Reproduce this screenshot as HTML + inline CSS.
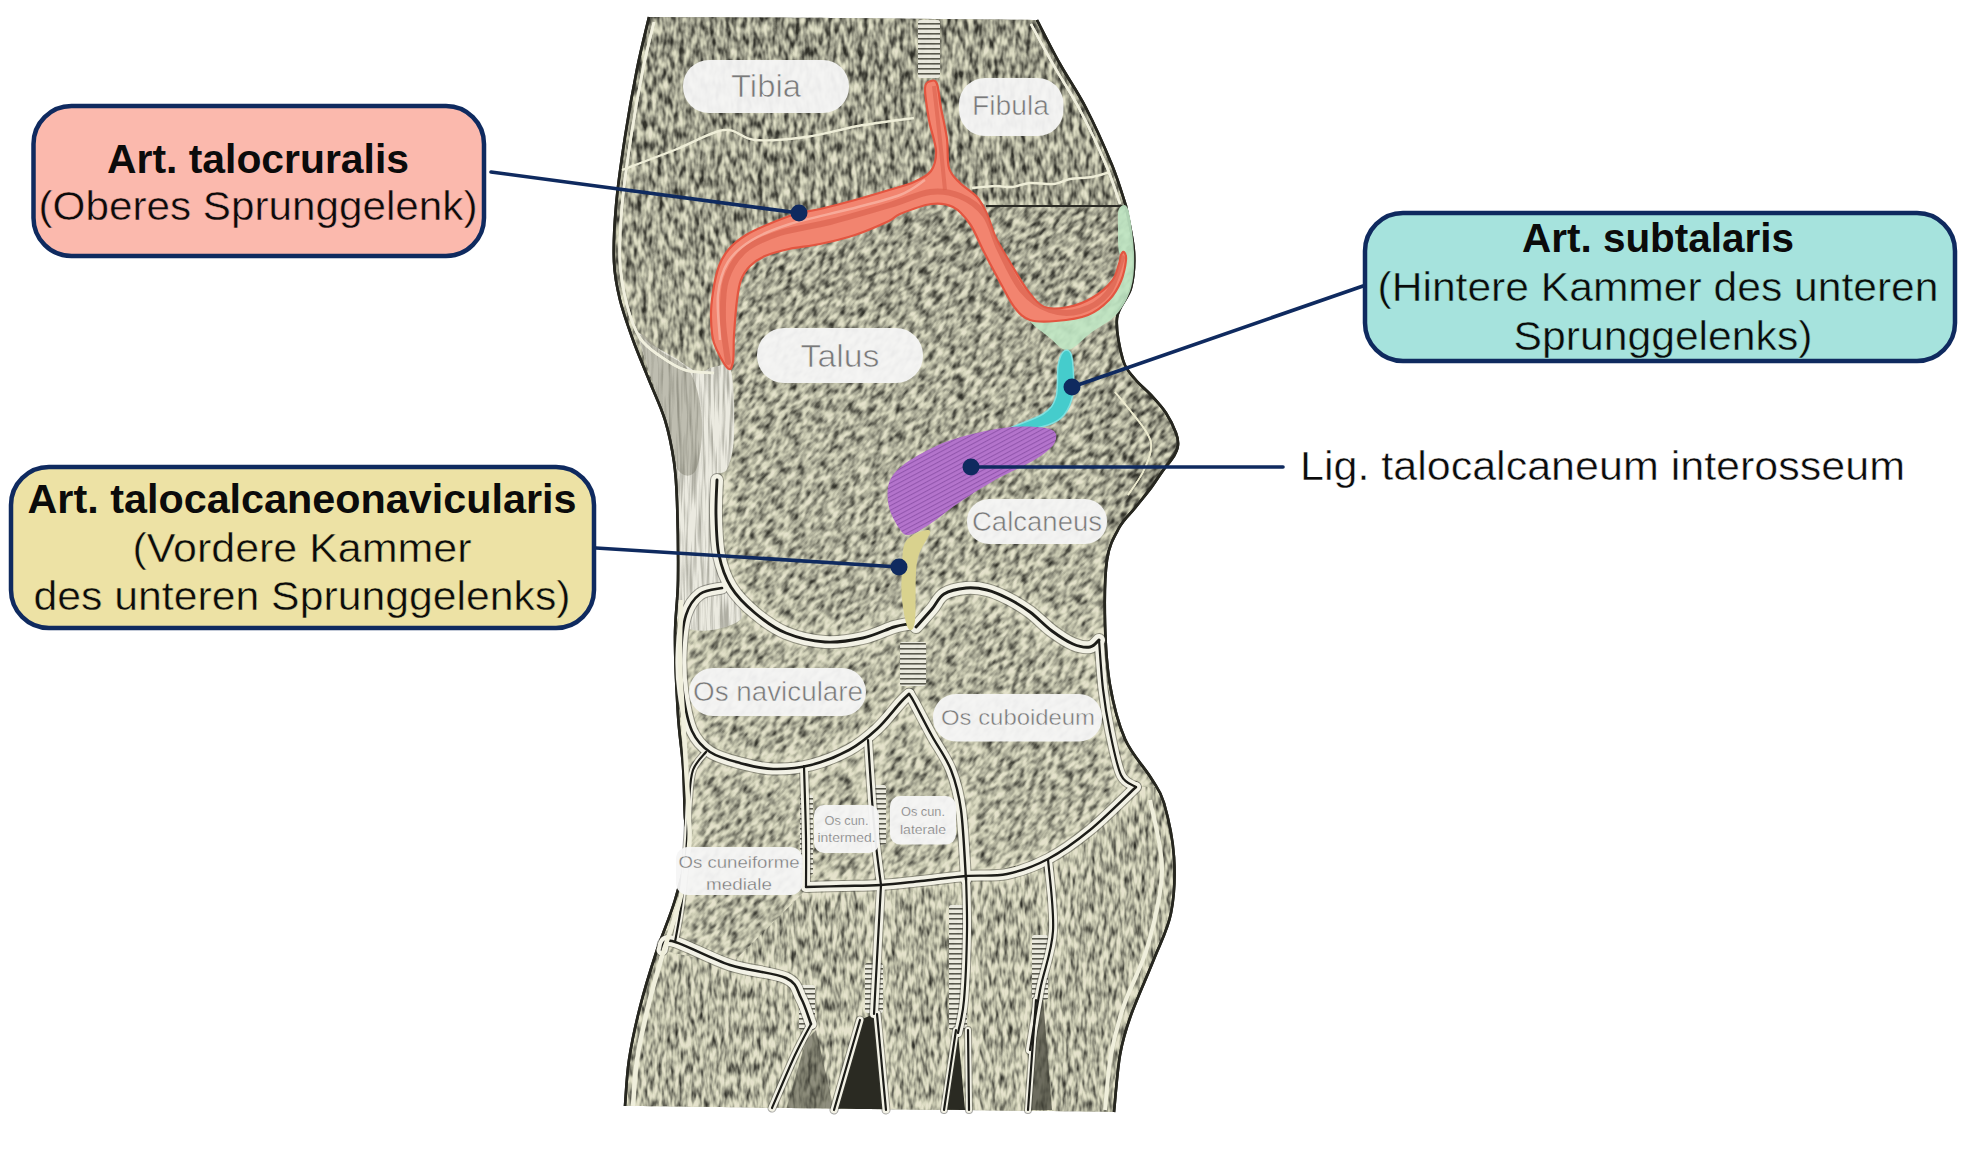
<!DOCTYPE html>
<html><head><meta charset="utf-8"><style>
html,body{margin:0;padding:0;background:#fff;}
body{width:1970px;height:1164px;overflow:hidden;}
svg{display:block;font-family:"Liberation Sans",sans-serif;}
</style></head><body>
<svg width="1970" height="1164" viewBox="0 0 1970 1164"><defs><clipPath id="bc"><path d="M649,17 C680.8,17.2 775.3,17.5 840,18 C904.7,18.5 1004.2,19.7 1037,20 C1040.8,27.3 1051.8,49.3 1060,64 C1068.2,78.7 1077.3,91.2 1086,108 C1094.7,124.8 1105.3,148.7 1112,165 C1118.7,181.3 1123.7,199.2 1126,206 C1127.3,213.7 1133.2,238.3 1134,252 C1134.8,265.7 1133.8,277.0 1131,288 C1128.2,299.0 1118.3,306.0 1117,318 C1115.7,330.0 1120.0,349.8 1123,360 C1126.0,370.2 1130.3,373.2 1135,379 C1139.7,384.8 1145.8,389.3 1151,395 C1156.2,400.7 1161.8,406.7 1166,413 C1170.2,419.3 1174.0,427.7 1176,433 C1178.0,438.3 1178.3,441.2 1178,445 C1177.7,448.8 1176.7,451.5 1174,456 C1171.3,460.5 1165.8,466.7 1162,472 C1158.2,477.3 1155.5,482.0 1151,488 C1146.5,494.0 1140.3,501.3 1135,508 C1129.7,514.7 1123.7,519.3 1119,528 C1114.3,536.7 1109.3,544.2 1107,560 C1104.7,575.8 1104.5,602.2 1105,623 C1105.5,643.8 1106.7,665.7 1110,685 C1113.3,704.3 1118.2,723.5 1125,739 C1131.8,754.5 1144.5,767.3 1151,778 C1157.5,788.7 1160.2,789.8 1164,803 C1167.8,816.2 1172.8,838.7 1174,857 C1175.2,875.3 1174.3,896.0 1171,913 C1167.7,930.0 1160.7,942.0 1154,959 C1147.3,976.0 1136.7,999.0 1131,1015 C1125.3,1031.0 1122.8,1038.8 1120,1055 C1117.2,1071.2 1115.0,1102.5 1114,1112 C1073.3,1111.5 951.5,1110.0 870,1109 C788.5,1108.0 665.8,1106.5 625,1106 C625.7,1098.3 626.5,1076.5 629,1060 C631.5,1043.5 635.5,1024.8 640,1007 C644.5,989.2 650.2,970.8 656,953 C661.8,935.2 669.7,917.7 675,900 C680.3,882.3 686.3,860.7 688,847 C689.7,833.3 685.8,831.5 685,818 C684.2,804.5 684.2,783.2 683,766 C681.8,748.8 679.3,736.5 678,715 C676.7,693.5 675.0,659.5 675,637 C675.0,614.5 677.7,602.7 678,580 C678.3,557.3 677.7,520.7 677,501 C676.3,481.3 676.0,475.5 674,462 C672.0,448.5 669.2,433.7 665,420 C660.8,406.3 654.3,393.3 649,380 C643.7,366.7 637.8,353.3 633,340 C628.2,326.7 623.2,313.0 620,300 C616.8,287.0 614.7,277.7 614,262 C613.3,246.3 614.2,226.8 616,206 C617.8,185.2 621.5,159.8 625,137 C628.5,114.2 633.0,89.0 637,69 C641.0,49.0 647.0,25.7 649,17Z"/></clipPath><filter id="tx" x="0" y="-700" width="1900" height="2300" filterUnits="userSpaceOnUse" color-interpolation-filters="sRGB">
  <feGaussianBlur in="SourceGraphic" stdDeviation="5" result="b"/>
  <feTurbulence type="fractalNoise" baseFrequency="0.2 0.1" numOctaves="2" seed="7" result="n0"/>
  <feColorMatrix in="n0" type="matrix" values="1 0 0 0 0  1 0 0 0 0  1 0 0 0 0  0 0 0 0 1" result="n"/>
  <feComposite in="n" in2="b" operator="arithmetic" k1="0" k2="1" k3="1" k4="-0.5"/>
  <feColorMatrix type="matrix" values="1.7 0 0 0 -0.35  1.7 0 0 0 -0.35  1.7 0 0 0 -0.35  0 0 0 0 1"/>
  <feComponentTransfer>
    <feFuncR type="table" tableValues="0.19 0.32 0.48 0.62 0.74 0.84 0.9"/>
    <feFuncG type="table" tableValues="0.19 0.32 0.48 0.62 0.74 0.84 0.89"/>
    <feFuncB type="table" tableValues="0.16 0.28 0.42 0.55 0.65 0.74 0.8"/>
  </feComponentTransfer>
  <feGaussianBlur stdDeviation="0.6"/>
</filter><filter id="tx1" x="600" y="10" width="600" height="1110" filterUnits="userSpaceOnUse" color-interpolation-filters="sRGB">
  <feGaussianBlur in="SourceGraphic" stdDeviation="5" result="b"/>
  <feTurbulence type="fractalNoise" baseFrequency="0.19 0.085" numOctaves="2" seed="3" result="n0"/>
  <feColorMatrix in="n0" type="matrix" values="1 0 0 0 0  1 0 0 0 0  1 0 0 0 0  0 0 0 0 1" result="n"/>
  <feComposite in="n" in2="b" operator="arithmetic" k1="0" k2="1" k3="1" k4="-0.5"/>
  <feColorMatrix type="matrix" values="1.7 0 0 0 -0.35  1.7 0 0 0 -0.35  1.7 0 0 0 -0.35  0 0 0 0 1"/>
  <feComponentTransfer>
    <feFuncR type="table" tableValues="0.19 0.32 0.48 0.62 0.74 0.84 0.9"/>
    <feFuncG type="table" tableValues="0.19 0.32 0.48 0.62 0.74 0.84 0.89"/>
    <feFuncB type="table" tableValues="0.16 0.28 0.42 0.55 0.65 0.74 0.8"/>
  </feComponentTransfer>
  <feGaussianBlur stdDeviation="0.6"/>
</filter><filter id="tx3" x="600" y="10" width="600" height="1110" filterUnits="userSpaceOnUse" color-interpolation-filters="sRGB">
  <feGaussianBlur in="SourceGraphic" stdDeviation="5" result="b"/>
  <feTurbulence type="fractalNoise" baseFrequency="0.24 0.08" numOctaves="2" seed="5" result="n0"/>
  <feColorMatrix in="n0" type="matrix" values="1 0 0 0 0  1 0 0 0 0  1 0 0 0 0  0 0 0 0 1" result="n"/>
  <feComposite in="n" in2="b" operator="arithmetic" k1="0" k2="1" k3="1" k4="-0.5"/>
  <feColorMatrix type="matrix" values="1.7 0 0 0 -0.35  1.7 0 0 0 -0.35  1.7 0 0 0 -0.35  0 0 0 0 1"/>
  <feComponentTransfer>
    <feFuncR type="table" tableValues="0.19 0.32 0.48 0.62 0.74 0.84 0.9"/>
    <feFuncG type="table" tableValues="0.19 0.32 0.48 0.62 0.74 0.84 0.89"/>
    <feFuncB type="table" tableValues="0.16 0.28 0.42 0.55 0.65 0.74 0.8"/>
  </feComponentTransfer>
  <feGaussianBlur stdDeviation="0.6"/>
</filter><filter id="streak" x="600" y="300" width="200" height="350" filterUnits="userSpaceOnUse" color-interpolation-filters="sRGB">
  <feTurbulence type="fractalNoise" baseFrequency="0.35 0.02" numOctaves="2" seed="11"/>
  <feColorMatrix type="matrix" values="0 0 0 0 0.35  0 0 0 0 0.35  0 0 0 0 0.3  -3 0 0 0 1.75"/>
</filter>
<pattern id="stip" x="0" y="0" width="6" height="5" patternUnits="userSpaceOnUse">
  <rect width="6" height="5" fill="#ecebe0"/><rect y="3" width="6" height="1.6" fill="#55554a"/>
</pattern>
<pattern id="pstri" x="0" y="0" width="4" height="4" patternUnits="userSpaceOnUse" patternTransform="rotate(-28)">
  <rect width="4" height="4" fill="#b474cc"/><rect y="0" width="4" height="1.1" fill="#9256ad"/>
</pattern>
<linearGradient id="bias" x1="0" y1="0" x2="0" y2="1">
  <stop offset="0" stop-color="#7e7e7e"/>
  <stop offset="0.18" stop-color="#828282"/>
  <stop offset="0.3" stop-color="#8a8a8a"/>
  <stop offset="0.55" stop-color="#8e8e8e"/>
  <stop offset="0.8" stop-color="#929292"/>
  <stop offset="1" stop-color="#929292"/>
</linearGradient></defs><g clip-path="url(#bc)"><clipPath id="r1"><path d="M600,10 L1200,10 L1200,206 L990,206 L960,196 L930,192 L890,205 L830,222 L780,233 L745,250 L726,280 L723,320 L728,365 L700,375 L600,375Z"/></clipPath><clipPath id="r3"><path d="M600,950 L660,950 L730,965 L806,890 L881,890 L966,876 L1048,859 L1136,787 L1200,787 L1200,1120 L600,1120Z"/></clipPath><g transform="rotate(40 900 560)"><g filter="url(#tx)"><g transform="rotate(-40 900 560)"><rect x="600" y="10" width="600" height="1110" fill="url(#bias)"/><ellipse cx="1135" cy="420" rx="40" ry="80" fill="#7e7e7e" opacity="0.8"/><ellipse cx="1140" cy="515" rx="22" ry="55" fill="#707070" opacity="0.8"/><ellipse cx="760" cy="60" rx="120" ry="50" fill="#7a7a7a" opacity="0.7"/><path d="M908,624 C905.7,624.5 901.5,624.7 894,627 C886.5,629.3 874.5,635.5 863,638 C851.5,640.5 837.8,642.8 825,642 C812.2,641.2 797.7,637.8 786,633 C774.3,628.2 764.2,620.7 755,613 C745.8,605.3 737.0,596.7 731,587 C725.0,577.3 721.5,567.0 719,555 C716.5,543.0 716.3,527.5 716,515 C715.7,502.5 716.8,485.8 717,480" fill="none" stroke="#b0b0b0" stroke-width="26" stroke-linecap="round" stroke-linejoin="round"/><path d="M916,627 C918.7,624.0 927.3,614.5 932,609 C936.7,603.5 938.3,597.5 944,594 C949.7,590.5 958.8,588.7 966,588 C973.2,587.3 979.8,588.2 987,590 C994.2,591.8 1001.8,595.3 1009,599 C1016.2,602.7 1022.8,606.7 1030,612 C1037.2,617.3 1044.8,625.7 1052,631 C1059.2,636.3 1066.7,641.3 1073,644 C1079.3,646.7 1085.7,647.7 1090,647 C1094.3,646.3 1097.5,641.2 1099,640" fill="none" stroke="#b0b0b0" stroke-width="26" stroke-linecap="round" stroke-linejoin="round"/><path d="M722,588 C718.3,589.0 706.0,589.5 700,594 C694.0,598.5 689.2,604.8 686,615 C682.8,625.2 681.5,642.0 681,655 C680.5,668.0 681.2,680.3 683,693 C684.8,705.7 687.5,721.2 692,731 C696.5,740.8 702.0,746.7 710,752 C718.0,757.3 729.5,760.2 740,763 C750.5,765.8 761.2,768.7 773,769 C784.8,769.3 798.3,768.2 811,765 C823.7,761.8 838.0,756.0 849,750 C860.0,744.0 868.5,736.8 877,729 C885.5,721.2 894.7,708.8 900,703 C905.3,697.2 907.5,695.5 909,694" fill="none" stroke="#b0b0b0" stroke-width="25" stroke-linecap="round" stroke-linejoin="round"/><path d="M909,694 C909.8,695.3 910.2,695.0 914,702 C917.8,709.0 925.8,724.7 932,736 C938.2,747.3 946.2,757.7 951,770 C955.8,782.3 958.5,791.7 961,810 C963.5,828.3 965.2,868.3 966,880" fill="none" stroke="#b0b0b0" stroke-width="24" stroke-linecap="round" stroke-linejoin="round"/><path d="M804,766 C804.3,778.0 805.7,817.8 806,838 C806.3,858.2 806.0,878.8 806,887" fill="none" stroke="#b0b0b0" stroke-width="22" stroke-linecap="round" stroke-linejoin="round"/><path d="M868,740 C868.7,750.0 870.7,782.5 872,800 C873.3,817.5 874.5,830.8 876,845 C877.5,859.2 880.2,878.3 881,885" fill="none" stroke="#b0b0b0" stroke-width="22" stroke-linecap="round" stroke-linejoin="round"/><path d="M806,887 C812.2,886.8 830.5,886.3 843,886 C855.5,885.7 868.0,885.8 881,885 C894.0,884.2 906.8,882.5 921,881 C935.2,879.5 951.7,877.2 966,876 C980.3,874.8 993.3,876.8 1007,874 C1020.7,871.2 1034.2,866.3 1048,859 C1061.8,851.7 1075.3,842.0 1090,830 C1104.7,818.0 1128.3,794.2 1136,787" fill="none" stroke="#b0b0b0" stroke-width="24" stroke-linecap="round" stroke-linejoin="round"/><path d="M966,876 C966.2,885.0 967.3,909.3 967,930 C966.7,950.7 965.5,982.8 964,1000 C962.5,1017.2 959.0,1027.5 958,1033" fill="none" stroke="#b0b0b0" stroke-width="22" stroke-linecap="round" stroke-linejoin="round"/><path d="M1048,859 C1048.8,871.0 1054.3,909.2 1053,931 C1051.7,952.8 1043.8,970.2 1040,990 C1036.2,1009.8 1031.7,1040.0 1030,1050" fill="none" stroke="#b0b0b0" stroke-width="22" stroke-linecap="round" stroke-linejoin="round"/><path d="M662,950 C663.7,948.5 660.7,938.5 672,941 C683.3,943.5 711.0,958.8 730,965 C749.0,971.2 774.2,972.5 786,978 C797.8,983.5 796.8,990.3 801,998 C805.2,1005.7 809.3,1019.7 811,1024" fill="none" stroke="#b0b0b0" stroke-width="25" stroke-linecap="round" stroke-linejoin="round"/><path d="M811,1024 C808.3,1029.2 801.5,1041.0 795,1055 C788.5,1069.0 775.8,1099.2 772,1108" fill="none" stroke="#b0b0b0" stroke-width="21" stroke-linecap="round" stroke-linejoin="round"/><path d="M881,885 L874,1014" fill="none" stroke="#b0b0b0" stroke-width="22" stroke-linecap="round" stroke-linejoin="round"/><path d="M860,1020 L834,1110" fill="none" stroke="#b0b0b0" stroke-width="21" stroke-linecap="round" stroke-linejoin="round"/><path d="M877,1014 L886,1110" fill="none" stroke="#b0b0b0" stroke-width="21" stroke-linecap="round" stroke-linejoin="round"/><path d="M944,1110 L956,1030" fill="none" stroke="#b0b0b0" stroke-width="20" stroke-linecap="round" stroke-linejoin="round"/><path d="M968,1030 L969,1110" fill="none" stroke="#b0b0b0" stroke-width="20" stroke-linecap="round" stroke-linejoin="round"/><path d="M1028,1110 L1036,1000" fill="none" stroke="#b0b0b0" stroke-width="20" stroke-linecap="round" stroke-linejoin="round"/><path d="M706,752 C703.8,755.0 695.8,762.0 693,770 C690.2,778.0 690.0,788.3 689,800 C688.0,811.7 688.2,823.3 687,840 C685.8,856.7 684.0,883.0 682,900 C680.0,917.0 676.2,935.0 675,942" fill="none" stroke="#b0b0b0" stroke-width="20" stroke-linecap="round" stroke-linejoin="round"/><path d="M1099,640 C1099.7,648.2 1101.2,673.7 1103,689 C1104.8,704.3 1107.0,717.7 1110,732 C1113.0,746.3 1116.7,765.8 1121,775 C1125.3,784.2 1133.5,785.0 1136,787" fill="none" stroke="#b0b0b0" stroke-width="23" stroke-linecap="round" stroke-linejoin="round"/></g></g></g><g clip-path="url(#r1)"><g filter="url(#tx1)"><rect x="600" y="10" width="600" height="1110" fill="url(#bias)"/><ellipse cx="1135" cy="420" rx="40" ry="80" fill="#7e7e7e" opacity="0.8"/><ellipse cx="1140" cy="515" rx="22" ry="55" fill="#707070" opacity="0.8"/><ellipse cx="760" cy="60" rx="120" ry="50" fill="#7a7a7a" opacity="0.7"/><path d="M908,624 C905.7,624.5 901.5,624.7 894,627 C886.5,629.3 874.5,635.5 863,638 C851.5,640.5 837.8,642.8 825,642 C812.2,641.2 797.7,637.8 786,633 C774.3,628.2 764.2,620.7 755,613 C745.8,605.3 737.0,596.7 731,587 C725.0,577.3 721.5,567.0 719,555 C716.5,543.0 716.3,527.5 716,515 C715.7,502.5 716.8,485.8 717,480" fill="none" stroke="#b0b0b0" stroke-width="26" stroke-linecap="round" stroke-linejoin="round"/><path d="M916,627 C918.7,624.0 927.3,614.5 932,609 C936.7,603.5 938.3,597.5 944,594 C949.7,590.5 958.8,588.7 966,588 C973.2,587.3 979.8,588.2 987,590 C994.2,591.8 1001.8,595.3 1009,599 C1016.2,602.7 1022.8,606.7 1030,612 C1037.2,617.3 1044.8,625.7 1052,631 C1059.2,636.3 1066.7,641.3 1073,644 C1079.3,646.7 1085.7,647.7 1090,647 C1094.3,646.3 1097.5,641.2 1099,640" fill="none" stroke="#b0b0b0" stroke-width="26" stroke-linecap="round" stroke-linejoin="round"/><path d="M722,588 C718.3,589.0 706.0,589.5 700,594 C694.0,598.5 689.2,604.8 686,615 C682.8,625.2 681.5,642.0 681,655 C680.5,668.0 681.2,680.3 683,693 C684.8,705.7 687.5,721.2 692,731 C696.5,740.8 702.0,746.7 710,752 C718.0,757.3 729.5,760.2 740,763 C750.5,765.8 761.2,768.7 773,769 C784.8,769.3 798.3,768.2 811,765 C823.7,761.8 838.0,756.0 849,750 C860.0,744.0 868.5,736.8 877,729 C885.5,721.2 894.7,708.8 900,703 C905.3,697.2 907.5,695.5 909,694" fill="none" stroke="#b0b0b0" stroke-width="25" stroke-linecap="round" stroke-linejoin="round"/><path d="M909,694 C909.8,695.3 910.2,695.0 914,702 C917.8,709.0 925.8,724.7 932,736 C938.2,747.3 946.2,757.7 951,770 C955.8,782.3 958.5,791.7 961,810 C963.5,828.3 965.2,868.3 966,880" fill="none" stroke="#b0b0b0" stroke-width="24" stroke-linecap="round" stroke-linejoin="round"/><path d="M804,766 C804.3,778.0 805.7,817.8 806,838 C806.3,858.2 806.0,878.8 806,887" fill="none" stroke="#b0b0b0" stroke-width="22" stroke-linecap="round" stroke-linejoin="round"/><path d="M868,740 C868.7,750.0 870.7,782.5 872,800 C873.3,817.5 874.5,830.8 876,845 C877.5,859.2 880.2,878.3 881,885" fill="none" stroke="#b0b0b0" stroke-width="22" stroke-linecap="round" stroke-linejoin="round"/><path d="M806,887 C812.2,886.8 830.5,886.3 843,886 C855.5,885.7 868.0,885.8 881,885 C894.0,884.2 906.8,882.5 921,881 C935.2,879.5 951.7,877.2 966,876 C980.3,874.8 993.3,876.8 1007,874 C1020.7,871.2 1034.2,866.3 1048,859 C1061.8,851.7 1075.3,842.0 1090,830 C1104.7,818.0 1128.3,794.2 1136,787" fill="none" stroke="#b0b0b0" stroke-width="24" stroke-linecap="round" stroke-linejoin="round"/><path d="M966,876 C966.2,885.0 967.3,909.3 967,930 C966.7,950.7 965.5,982.8 964,1000 C962.5,1017.2 959.0,1027.5 958,1033" fill="none" stroke="#b0b0b0" stroke-width="22" stroke-linecap="round" stroke-linejoin="round"/><path d="M1048,859 C1048.8,871.0 1054.3,909.2 1053,931 C1051.7,952.8 1043.8,970.2 1040,990 C1036.2,1009.8 1031.7,1040.0 1030,1050" fill="none" stroke="#b0b0b0" stroke-width="22" stroke-linecap="round" stroke-linejoin="round"/><path d="M662,950 C663.7,948.5 660.7,938.5 672,941 C683.3,943.5 711.0,958.8 730,965 C749.0,971.2 774.2,972.5 786,978 C797.8,983.5 796.8,990.3 801,998 C805.2,1005.7 809.3,1019.7 811,1024" fill="none" stroke="#b0b0b0" stroke-width="25" stroke-linecap="round" stroke-linejoin="round"/><path d="M811,1024 C808.3,1029.2 801.5,1041.0 795,1055 C788.5,1069.0 775.8,1099.2 772,1108" fill="none" stroke="#b0b0b0" stroke-width="21" stroke-linecap="round" stroke-linejoin="round"/><path d="M881,885 L874,1014" fill="none" stroke="#b0b0b0" stroke-width="22" stroke-linecap="round" stroke-linejoin="round"/><path d="M860,1020 L834,1110" fill="none" stroke="#b0b0b0" stroke-width="21" stroke-linecap="round" stroke-linejoin="round"/><path d="M877,1014 L886,1110" fill="none" stroke="#b0b0b0" stroke-width="21" stroke-linecap="round" stroke-linejoin="round"/><path d="M944,1110 L956,1030" fill="none" stroke="#b0b0b0" stroke-width="20" stroke-linecap="round" stroke-linejoin="round"/><path d="M968,1030 L969,1110" fill="none" stroke="#b0b0b0" stroke-width="20" stroke-linecap="round" stroke-linejoin="round"/><path d="M1028,1110 L1036,1000" fill="none" stroke="#b0b0b0" stroke-width="20" stroke-linecap="round" stroke-linejoin="round"/><path d="M706,752 C703.8,755.0 695.8,762.0 693,770 C690.2,778.0 690.0,788.3 689,800 C688.0,811.7 688.2,823.3 687,840 C685.8,856.7 684.0,883.0 682,900 C680.0,917.0 676.2,935.0 675,942" fill="none" stroke="#b0b0b0" stroke-width="20" stroke-linecap="round" stroke-linejoin="round"/><path d="M1099,640 C1099.7,648.2 1101.2,673.7 1103,689 C1104.8,704.3 1107.0,717.7 1110,732 C1113.0,746.3 1116.7,765.8 1121,775 C1125.3,784.2 1133.5,785.0 1136,787" fill="none" stroke="#b0b0b0" stroke-width="23" stroke-linecap="round" stroke-linejoin="round"/></g></g><g clip-path="url(#r3)"><g filter="url(#tx3)"><rect x="600" y="10" width="600" height="1110" fill="url(#bias)"/><ellipse cx="1135" cy="420" rx="40" ry="80" fill="#7e7e7e" opacity="0.8"/><ellipse cx="1140" cy="515" rx="22" ry="55" fill="#707070" opacity="0.8"/><ellipse cx="760" cy="60" rx="120" ry="50" fill="#7a7a7a" opacity="0.7"/><path d="M908,624 C905.7,624.5 901.5,624.7 894,627 C886.5,629.3 874.5,635.5 863,638 C851.5,640.5 837.8,642.8 825,642 C812.2,641.2 797.7,637.8 786,633 C774.3,628.2 764.2,620.7 755,613 C745.8,605.3 737.0,596.7 731,587 C725.0,577.3 721.5,567.0 719,555 C716.5,543.0 716.3,527.5 716,515 C715.7,502.5 716.8,485.8 717,480" fill="none" stroke="#b0b0b0" stroke-width="26" stroke-linecap="round" stroke-linejoin="round"/><path d="M916,627 C918.7,624.0 927.3,614.5 932,609 C936.7,603.5 938.3,597.5 944,594 C949.7,590.5 958.8,588.7 966,588 C973.2,587.3 979.8,588.2 987,590 C994.2,591.8 1001.8,595.3 1009,599 C1016.2,602.7 1022.8,606.7 1030,612 C1037.2,617.3 1044.8,625.7 1052,631 C1059.2,636.3 1066.7,641.3 1073,644 C1079.3,646.7 1085.7,647.7 1090,647 C1094.3,646.3 1097.5,641.2 1099,640" fill="none" stroke="#b0b0b0" stroke-width="26" stroke-linecap="round" stroke-linejoin="round"/><path d="M722,588 C718.3,589.0 706.0,589.5 700,594 C694.0,598.5 689.2,604.8 686,615 C682.8,625.2 681.5,642.0 681,655 C680.5,668.0 681.2,680.3 683,693 C684.8,705.7 687.5,721.2 692,731 C696.5,740.8 702.0,746.7 710,752 C718.0,757.3 729.5,760.2 740,763 C750.5,765.8 761.2,768.7 773,769 C784.8,769.3 798.3,768.2 811,765 C823.7,761.8 838.0,756.0 849,750 C860.0,744.0 868.5,736.8 877,729 C885.5,721.2 894.7,708.8 900,703 C905.3,697.2 907.5,695.5 909,694" fill="none" stroke="#b0b0b0" stroke-width="25" stroke-linecap="round" stroke-linejoin="round"/><path d="M909,694 C909.8,695.3 910.2,695.0 914,702 C917.8,709.0 925.8,724.7 932,736 C938.2,747.3 946.2,757.7 951,770 C955.8,782.3 958.5,791.7 961,810 C963.5,828.3 965.2,868.3 966,880" fill="none" stroke="#b0b0b0" stroke-width="24" stroke-linecap="round" stroke-linejoin="round"/><path d="M804,766 C804.3,778.0 805.7,817.8 806,838 C806.3,858.2 806.0,878.8 806,887" fill="none" stroke="#b0b0b0" stroke-width="22" stroke-linecap="round" stroke-linejoin="round"/><path d="M868,740 C868.7,750.0 870.7,782.5 872,800 C873.3,817.5 874.5,830.8 876,845 C877.5,859.2 880.2,878.3 881,885" fill="none" stroke="#b0b0b0" stroke-width="22" stroke-linecap="round" stroke-linejoin="round"/><path d="M806,887 C812.2,886.8 830.5,886.3 843,886 C855.5,885.7 868.0,885.8 881,885 C894.0,884.2 906.8,882.5 921,881 C935.2,879.5 951.7,877.2 966,876 C980.3,874.8 993.3,876.8 1007,874 C1020.7,871.2 1034.2,866.3 1048,859 C1061.8,851.7 1075.3,842.0 1090,830 C1104.7,818.0 1128.3,794.2 1136,787" fill="none" stroke="#b0b0b0" stroke-width="24" stroke-linecap="round" stroke-linejoin="round"/><path d="M966,876 C966.2,885.0 967.3,909.3 967,930 C966.7,950.7 965.5,982.8 964,1000 C962.5,1017.2 959.0,1027.5 958,1033" fill="none" stroke="#b0b0b0" stroke-width="22" stroke-linecap="round" stroke-linejoin="round"/><path d="M1048,859 C1048.8,871.0 1054.3,909.2 1053,931 C1051.7,952.8 1043.8,970.2 1040,990 C1036.2,1009.8 1031.7,1040.0 1030,1050" fill="none" stroke="#b0b0b0" stroke-width="22" stroke-linecap="round" stroke-linejoin="round"/><path d="M662,950 C663.7,948.5 660.7,938.5 672,941 C683.3,943.5 711.0,958.8 730,965 C749.0,971.2 774.2,972.5 786,978 C797.8,983.5 796.8,990.3 801,998 C805.2,1005.7 809.3,1019.7 811,1024" fill="none" stroke="#b0b0b0" stroke-width="25" stroke-linecap="round" stroke-linejoin="round"/><path d="M811,1024 C808.3,1029.2 801.5,1041.0 795,1055 C788.5,1069.0 775.8,1099.2 772,1108" fill="none" stroke="#b0b0b0" stroke-width="21" stroke-linecap="round" stroke-linejoin="round"/><path d="M881,885 L874,1014" fill="none" stroke="#b0b0b0" stroke-width="22" stroke-linecap="round" stroke-linejoin="round"/><path d="M860,1020 L834,1110" fill="none" stroke="#b0b0b0" stroke-width="21" stroke-linecap="round" stroke-linejoin="round"/><path d="M877,1014 L886,1110" fill="none" stroke="#b0b0b0" stroke-width="21" stroke-linecap="round" stroke-linejoin="round"/><path d="M944,1110 L956,1030" fill="none" stroke="#b0b0b0" stroke-width="20" stroke-linecap="round" stroke-linejoin="round"/><path d="M968,1030 L969,1110" fill="none" stroke="#b0b0b0" stroke-width="20" stroke-linecap="round" stroke-linejoin="round"/><path d="M1028,1110 L1036,1000" fill="none" stroke="#b0b0b0" stroke-width="20" stroke-linecap="round" stroke-linejoin="round"/><path d="M706,752 C703.8,755.0 695.8,762.0 693,770 C690.2,778.0 690.0,788.3 689,800 C688.0,811.7 688.2,823.3 687,840 C685.8,856.7 684.0,883.0 682,900 C680.0,917.0 676.2,935.0 675,942" fill="none" stroke="#b0b0b0" stroke-width="20" stroke-linecap="round" stroke-linejoin="round"/><path d="M1099,640 C1099.7,648.2 1101.2,673.7 1103,689 C1104.8,704.3 1107.0,717.7 1110,732 C1113.0,746.3 1116.7,765.8 1121,775 C1125.3,784.2 1133.5,785.0 1136,787" fill="none" stroke="#b0b0b0" stroke-width="23" stroke-linecap="round" stroke-linejoin="round"/></g></g><path d="M639,338 C641.2,350.5 659.2,399.3 665,420 C670.8,440.7 672.0,448.5 674,462 C676.0,475.5 676.3,474.7 677,501 C677.7,527.3 667.5,600.2 678,620 C688.5,639.8 732.3,627.5 740,620 C747.7,612.5 728.3,589.2 724,575 C719.7,560.8 715.7,550.8 714,535 C712.3,519.2 711.8,491.0 714,480 C716.2,469.0 723.7,476.3 727,469 C730.3,461.7 733.3,452.3 734,436 C734.7,419.7 734.3,382.5 731,371 C727.7,359.5 719.5,366.8 714,367 C708.5,367.2 704.5,373.5 698,372 C691.5,370.5 682.7,362.5 675,358 C667.3,353.5 658.0,348.3 652,345 C646.0,341.7 636.8,325.5 639,338Z" fill="#ebeae0"/><clipPath id="ligc"><path d="M639,338 C641.2,350.5 659.2,399.3 665,420 C670.8,440.7 672.0,448.5 674,462 C676.0,475.5 676.3,474.7 677,501 C677.7,527.3 667.5,600.2 678,620 C688.5,639.8 732.3,627.5 740,620 C747.7,612.5 728.3,589.2 724,575 C719.7,560.8 715.7,550.8 714,535 C712.3,519.2 711.8,491.0 714,480 C716.2,469.0 723.7,476.3 727,469 C730.3,461.7 733.3,452.3 734,436 C734.7,419.7 734.3,382.5 731,371 C727.7,359.5 719.5,366.8 714,367 C708.5,367.2 704.5,373.5 698,372 C691.5,370.5 682.7,362.5 675,358 C667.3,353.5 658.0,348.3 652,345 C646.0,341.7 636.8,325.5 639,338Z"/></clipPath><path d="M640,338 C639.0,325.0 653.7,346.3 662,352 C670.3,357.7 683.3,360.7 690,372 C696.7,383.3 701.0,403.7 702,420 C703.0,436.3 700.0,461.7 696,470 C692.0,478.3 682.7,476.7 678,470 C673.3,463.3 674.3,452.0 668,430 C661.7,408.0 641.0,351.0 640,338Z" fill="#a09f90" opacity="0.6"/><rect x="600" y="300" width="200" height="350" filter="url(#streak)" opacity="0.4" clip-path="url(#ligc)"/><path d="M874,1014 L860,1020 L832,1110 L884,1110 Z" fill="#2a2a22"/><path d="M958,1033 L944,1110 L965,1110 Z" fill="#2a2a22"/><path d="M806,1040 L816,1030 L834,1110 L786,1110 Z" fill="#3a3a30" opacity="0.5"/><path d="M1040,960 L1030,1110 L1052,1110 Z" fill="#3a3a30" opacity="0.7"/><path d="M1178,445 C1179.5,443.5 1178.5,448.8 1174,456 C1169.5,463.2 1160.2,476.0 1151,488 C1141.8,500.0 1126.7,515.7 1119,528 C1111.3,540.3 1106.2,560.0 1105,562 C1103.8,564.0 1106.2,550.3 1112,540 C1117.8,529.7 1131.2,512.5 1140,500 C1148.8,487.5 1158.7,474.2 1165,465 C1171.3,455.8 1176.5,446.5 1178,445Z" fill="#2e2e28" opacity="0.75"/></g><path d="M1037,20 C1040.8,27.3 1051.8,49.3 1060,64 C1068.2,78.7 1077.3,91.2 1086,108 C1094.7,124.8 1105.3,148.7 1112,165 C1118.7,181.3 1123.7,199.2 1126,206 C1127.3,213.7 1133.2,238.3 1134,252 C1134.8,265.7 1133.8,277.0 1131,288 C1128.2,299.0 1118.3,306.0 1117,318 C1115.7,330.0 1120.0,349.8 1123,360 C1126.0,370.2 1130.3,373.2 1135,379 C1139.7,384.8 1145.8,389.3 1151,395 C1156.2,400.7 1161.8,406.7 1166,413 C1170.2,419.3 1174.0,427.7 1176,433 C1178.0,438.3 1178.3,441.2 1178,445 C1177.7,448.8 1176.7,451.5 1174,456 C1171.3,460.5 1165.8,466.7 1162,472 C1158.2,477.3 1155.5,482.0 1151,488 C1146.5,494.0 1140.3,501.3 1135,508 C1129.7,514.7 1123.7,519.3 1119,528 C1114.3,536.7 1109.3,544.2 1107,560 C1104.7,575.8 1104.5,602.2 1105,623 C1105.5,643.8 1106.7,665.7 1110,685 C1113.3,704.3 1118.2,723.5 1125,739 C1131.8,754.5 1144.5,767.3 1151,778 C1157.5,788.7 1160.2,789.8 1164,803 C1167.8,816.2 1172.8,838.7 1174,857 C1175.2,875.3 1174.3,896.0 1171,913 C1167.7,930.0 1160.7,942.0 1154,959 C1147.3,976.0 1136.7,999.0 1131,1015 C1125.3,1031.0 1122.8,1038.8 1120,1055 C1117.2,1071.2 1115.0,1102.5 1114,1112" fill="none" stroke="#26261f" stroke-width="2.6"/><path d="M625,1106 C625.7,1098.3 626.5,1076.5 629,1060 C631.5,1043.5 635.5,1024.8 640,1007 C644.5,989.2 650.2,970.8 656,953 C661.8,935.2 669.7,917.7 675,900 C680.3,882.3 686.3,860.7 688,847 C689.7,833.3 685.8,831.5 685,818 C684.2,804.5 684.2,783.2 683,766 C681.8,748.8 679.3,736.5 678,715 C676.7,693.5 675.0,659.5 675,637 C675.0,614.5 677.7,602.7 678,580 C678.3,557.3 677.7,520.7 677,501 C676.3,481.3 676.0,475.5 674,462 C672.0,448.5 669.2,433.7 665,420 C660.8,406.3 654.3,393.3 649,380 C643.7,366.7 637.8,353.3 633,340 C628.2,326.7 623.2,313.0 620,300 C616.8,287.0 614.7,277.7 614,262 C613.3,246.3 614.2,226.8 616,206 C617.8,185.2 621.5,159.8 625,137 C628.5,114.2 633.0,89.0 637,69 C641.0,49.0 647.0,25.7 649,17" fill="none" stroke="#26261f" stroke-width="2.6"/><path d="M654,22 C652.2,29.8 646.8,49.8 643,69 C639.2,88.2 634.5,114.2 631,137 C627.5,159.8 623.8,185.2 622,206 C620.2,226.8 619.2,245.5 620,262 C620.8,278.5 623.7,292.3 627,305 C630.3,317.7 634.5,329.5 640,338 C645.5,346.5 652.5,350.7 660,356 C667.5,361.3 676.0,367.2 685,370 C694.0,372.8 709.2,372.5 714,373" fill="none" stroke="#f1f0de" stroke-width="2.6"/><path d="M1031,24 C1034.8,31.0 1045.8,51.7 1054,66 C1062.2,80.3 1071.3,93.5 1080,110 C1088.7,126.5 1099.3,149.3 1106,165 C1112.7,180.7 1117.7,197.5 1120,204" fill="none" stroke="#f1f0de" stroke-width="2.4"/><path d="M986,206 L1126,206" fill="none" stroke="#2a2a24" stroke-width="2"/><path d="M1115,392 C1117.3,394.8 1123.7,402.2 1129,409 C1134.3,415.8 1143.3,426.3 1147,433 C1150.7,439.7 1151.7,442.5 1151,449 C1150.3,455.5 1146.8,464.3 1143,472 C1139.2,479.7 1130.5,491.2 1128,495" fill="none" stroke="#eeecd0" stroke-width="1.6"/><rect x="918" y="20" width="22" height="58" rx="3" fill="url(#stip)" opacity="0.8"/><rect x="900" y="642" width="26" height="44" rx="3" fill="url(#stip)" opacity="0.8"/><rect x="799" y="985" width="16" height="45" rx="3" fill="url(#stip)" opacity="0.8"/><rect x="865" y="963" width="18" height="50" rx="3" fill="url(#stip)" opacity="0.8"/><rect x="949" y="905" width="18" height="125" rx="3" fill="url(#stip)" opacity="0.8"/><rect x="1032" y="935" width="16" height="65" rx="3" fill="url(#stip)" opacity="0.8"/><rect x="800" y="795" width="13" height="80" rx="3" fill="url(#stip)" opacity="0.8"/><rect x="874" y="785" width="12" height="60" rx="3" fill="url(#stip)" opacity="0.8"/><path d="M1037,20 C1040.8,27.3 1051.8,49.3 1060,64 C1068.2,78.7 1077.3,91.2 1086,108 C1094.7,124.8 1105.3,148.7 1112,165 C1118.7,181.3 1123.7,199.2 1126,206 C1127.3,213.7 1133.2,238.3 1134,252 C1134.8,265.7 1133.8,277.0 1131,288 C1128.2,299.0 1118.3,306.0 1117,318 C1115.7,330.0 1120.0,349.8 1123,360 C1126.0,370.2 1130.3,373.2 1135,379 C1139.7,384.8 1145.8,389.3 1151,395 C1156.2,400.7 1161.8,406.7 1166,413 C1170.2,419.3 1174.0,427.7 1176,433 C1178.0,438.3 1178.3,441.2 1178,445 C1177.7,448.8 1176.7,451.5 1174,456 C1171.3,460.5 1165.8,466.7 1162,472 C1158.2,477.3 1155.5,482.0 1151,488 C1146.5,494.0 1140.3,501.3 1135,508 C1129.7,514.7 1123.7,519.3 1119,528 C1114.3,536.7 1109.3,544.2 1107,560 C1104.7,575.8 1104.5,602.2 1105,623 C1105.5,643.8 1106.7,665.7 1110,685 C1113.3,704.3 1118.2,723.5 1125,739 C1131.8,754.5 1144.5,767.3 1151,778 C1157.5,788.7 1160.2,789.8 1164,803 C1167.8,816.2 1172.8,838.7 1174,857 C1175.2,875.3 1174.3,896.0 1171,913 C1167.7,930.0 1160.7,942.0 1154,959 C1147.3,976.0 1136.7,999.0 1131,1015 C1125.3,1031.0 1122.8,1038.8 1120,1055 C1117.2,1071.2 1115.0,1102.5 1114,1112" fill="none" stroke="#26261f" stroke-width="2.6"/><path d="M625,1106 C625.7,1098.3 626.5,1076.5 629,1060 C631.5,1043.5 635.5,1024.8 640,1007 C644.5,989.2 650.2,970.8 656,953 C661.8,935.2 669.7,917.7 675,900 C680.3,882.3 686.3,860.7 688,847 C689.7,833.3 685.8,831.5 685,818 C684.2,804.5 684.2,783.2 683,766 C681.8,748.8 679.3,736.5 678,715 C676.7,693.5 675.0,659.5 675,637 C675.0,614.5 677.7,602.7 678,580 C678.3,557.3 677.7,520.7 677,501 C676.3,481.3 676.0,475.5 674,462 C672.0,448.5 669.2,433.7 665,420 C660.8,406.3 654.3,393.3 649,380 C643.7,366.7 637.8,353.3 633,340 C628.2,326.7 623.2,313.0 620,300 C616.8,287.0 614.7,277.7 614,262 C613.3,246.3 614.2,226.8 616,206 C617.8,185.2 621.5,159.8 625,137 C628.5,114.2 633.0,89.0 637,69 C641.0,49.0 647.0,25.7 649,17" fill="none" stroke="#26261f" stroke-width="2.6"/><path d="M654,22 C652.2,29.8 646.8,49.8 643,69 C639.2,88.2 634.5,114.2 631,137 C627.5,159.8 623.8,185.2 622,206 C620.2,226.8 619.2,245.5 620,262 C620.8,278.5 623.7,292.3 627,305 C630.3,317.7 634.5,329.5 640,338 C645.5,346.5 652.5,350.7 660,356 C667.5,361.3 676.0,367.2 685,370 C694.0,372.8 709.2,372.5 714,373" fill="none" stroke="#f1f0de" stroke-width="2.6"/><path d="M1031,24 C1034.8,31.0 1045.8,51.7 1054,66 C1062.2,80.3 1071.3,93.5 1080,110 C1088.7,126.5 1099.3,149.3 1106,165 C1112.7,180.7 1117.7,197.5 1120,204" fill="none" stroke="#f1f0de" stroke-width="2.4"/><path d="M986,206 L1126,206" fill="none" stroke="#2a2a24" stroke-width="2"/><path d="M1115,392 C1117.3,394.8 1123.7,402.2 1129,409 C1134.3,415.8 1143.3,426.3 1147,433 C1150.7,439.7 1151.7,442.5 1151,449 C1150.3,455.5 1146.8,464.3 1143,472 C1139.2,479.7 1130.5,491.2 1128,495" fill="none" stroke="#eeecd0" stroke-width="1.6"/><rect x="918" y="20" width="22" height="58" rx="3" fill="url(#stip)" opacity="0.8"/><rect x="900" y="642" width="26" height="44" rx="3" fill="url(#stip)" opacity="0.8"/><rect x="799" y="985" width="16" height="45" rx="3" fill="url(#stip)" opacity="0.8"/><rect x="865" y="963" width="18" height="50" rx="3" fill="url(#stip)" opacity="0.8"/><rect x="949" y="905" width="18" height="125" rx="3" fill="url(#stip)" opacity="0.8"/><rect x="1032" y="935" width="16" height="65" rx="3" fill="url(#stip)" opacity="0.8"/><rect x="800" y="795" width="13" height="80" rx="3" fill="url(#stip)" opacity="0.8"/><rect x="874" y="785" width="12" height="60" rx="3" fill="url(#stip)" opacity="0.8"/><path d="M908,624 C905.7,624.5 901.5,624.7 894,627 C886.5,629.3 874.5,635.5 863,638 C851.5,640.5 837.8,642.8 825,642 C812.2,641.2 797.7,637.8 786,633 C774.3,628.2 764.2,620.7 755,613 C745.8,605.3 737.0,596.7 731,587 C725.0,577.3 721.5,567.0 719,555 C716.5,543.0 716.3,527.5 716,515 C715.7,502.5 716.8,485.8 717,480" fill="none" stroke="#3a3a32" stroke-width="14" stroke-opacity="0.45" stroke-linecap="round" stroke-linejoin="round"/><path d="M916,627 C918.7,624.0 927.3,614.5 932,609 C936.7,603.5 938.3,597.5 944,594 C949.7,590.5 958.8,588.7 966,588 C973.2,587.3 979.8,588.2 987,590 C994.2,591.8 1001.8,595.3 1009,599 C1016.2,602.7 1022.8,606.7 1030,612 C1037.2,617.3 1044.8,625.7 1052,631 C1059.2,636.3 1066.7,641.3 1073,644 C1079.3,646.7 1085.7,647.7 1090,647 C1094.3,646.3 1097.5,641.2 1099,640" fill="none" stroke="#3a3a32" stroke-width="14" stroke-opacity="0.45" stroke-linecap="round" stroke-linejoin="round"/><path d="M722,588 C718.3,589.0 706.0,589.5 700,594 C694.0,598.5 689.2,604.8 686,615 C682.8,625.2 681.5,642.0 681,655 C680.5,668.0 681.2,680.3 683,693 C684.8,705.7 687.5,721.2 692,731 C696.5,740.8 702.0,746.7 710,752 C718.0,757.3 729.5,760.2 740,763 C750.5,765.8 761.2,768.7 773,769 C784.8,769.3 798.3,768.2 811,765 C823.7,761.8 838.0,756.0 849,750 C860.0,744.0 868.5,736.8 877,729 C885.5,721.2 894.7,708.8 900,703 C905.3,697.2 907.5,695.5 909,694" fill="none" stroke="#3a3a32" stroke-width="13" stroke-opacity="0.45" stroke-linecap="round" stroke-linejoin="round"/><path d="M909,694 C909.8,695.3 910.2,695.0 914,702 C917.8,709.0 925.8,724.7 932,736 C938.2,747.3 946.2,757.7 951,770 C955.8,782.3 958.5,791.7 961,810 C963.5,828.3 965.2,868.3 966,880" fill="none" stroke="#3a3a32" stroke-width="12" stroke-opacity="0.45" stroke-linecap="round" stroke-linejoin="round"/><path d="M804,766 C804.3,778.0 805.7,817.8 806,838 C806.3,858.2 806.0,878.8 806,887" fill="none" stroke="#3a3a32" stroke-width="10" stroke-opacity="0.45" stroke-linecap="round" stroke-linejoin="round"/><path d="M868,740 C868.7,750.0 870.7,782.5 872,800 C873.3,817.5 874.5,830.8 876,845 C877.5,859.2 880.2,878.3 881,885" fill="none" stroke="#3a3a32" stroke-width="10" stroke-opacity="0.45" stroke-linecap="round" stroke-linejoin="round"/><path d="M806,887 C812.2,886.8 830.5,886.3 843,886 C855.5,885.7 868.0,885.8 881,885 C894.0,884.2 906.8,882.5 921,881 C935.2,879.5 951.7,877.2 966,876 C980.3,874.8 993.3,876.8 1007,874 C1020.7,871.2 1034.2,866.3 1048,859 C1061.8,851.7 1075.3,842.0 1090,830 C1104.7,818.0 1128.3,794.2 1136,787" fill="none" stroke="#3a3a32" stroke-width="12" stroke-opacity="0.45" stroke-linecap="round" stroke-linejoin="round"/><path d="M966,876 C966.2,885.0 967.3,909.3 967,930 C966.7,950.7 965.5,982.8 964,1000 C962.5,1017.2 959.0,1027.5 958,1033" fill="none" stroke="#3a3a32" stroke-width="10" stroke-opacity="0.45" stroke-linecap="round" stroke-linejoin="round"/><path d="M1048,859 C1048.8,871.0 1054.3,909.2 1053,931 C1051.7,952.8 1043.8,970.2 1040,990 C1036.2,1009.8 1031.7,1040.0 1030,1050" fill="none" stroke="#3a3a32" stroke-width="10" stroke-opacity="0.45" stroke-linecap="round" stroke-linejoin="round"/><path d="M662,950 C663.7,948.5 660.7,938.5 672,941 C683.3,943.5 711.0,958.8 730,965 C749.0,971.2 774.2,972.5 786,978 C797.8,983.5 796.8,990.3 801,998 C805.2,1005.7 809.3,1019.7 811,1024" fill="none" stroke="#3a3a32" stroke-width="13" stroke-opacity="0.45" stroke-linecap="round" stroke-linejoin="round"/><path d="M811,1024 C808.3,1029.2 801.5,1041.0 795,1055 C788.5,1069.0 775.8,1099.2 772,1108" fill="none" stroke="#3a3a32" stroke-width="9" stroke-opacity="0.45" stroke-linecap="round" stroke-linejoin="round"/><path d="M881,885 L874,1014" fill="none" stroke="#3a3a32" stroke-width="10" stroke-opacity="0.45" stroke-linecap="round" stroke-linejoin="round"/><path d="M860,1020 L834,1110" fill="none" stroke="#3a3a32" stroke-width="9" stroke-opacity="0.45" stroke-linecap="round" stroke-linejoin="round"/><path d="M877,1014 L886,1110" fill="none" stroke="#3a3a32" stroke-width="9" stroke-opacity="0.45" stroke-linecap="round" stroke-linejoin="round"/><path d="M944,1110 L956,1030" fill="none" stroke="#3a3a32" stroke-width="8" stroke-opacity="0.45" stroke-linecap="round" stroke-linejoin="round"/><path d="M968,1030 L969,1110" fill="none" stroke="#3a3a32" stroke-width="8" stroke-opacity="0.45" stroke-linecap="round" stroke-linejoin="round"/><path d="M1028,1110 L1036,1000" fill="none" stroke="#3a3a32" stroke-width="8" stroke-opacity="0.45" stroke-linecap="round" stroke-linejoin="round"/><path d="M706,752 C703.8,755.0 695.8,762.0 693,770 C690.2,778.0 690.0,788.3 689,800 C688.0,811.7 688.2,823.3 687,840 C685.8,856.7 684.0,883.0 682,900 C680.0,917.0 676.2,935.0 675,942" fill="none" stroke="#3a3a32" stroke-width="8" stroke-opacity="0.45" stroke-linecap="round" stroke-linejoin="round"/><path d="M1099,640 C1099.7,648.2 1101.2,673.7 1103,689 C1104.8,704.3 1107.0,717.7 1110,732 C1113.0,746.3 1116.7,765.8 1121,775 C1125.3,784.2 1133.5,785.0 1136,787" fill="none" stroke="#3a3a32" stroke-width="11" stroke-opacity="0.45" stroke-linecap="round" stroke-linejoin="round"/><path d="M908,624 C905.7,624.5 901.5,624.7 894,627 C886.5,629.3 874.5,635.5 863,638 C851.5,640.5 837.8,642.8 825,642 C812.2,641.2 797.7,637.8 786,633 C774.3,628.2 764.2,620.7 755,613 C745.8,605.3 737.0,596.7 731,587 C725.0,577.3 721.5,567.0 719,555 C716.5,543.0 716.3,527.5 716,515 C715.7,502.5 716.8,485.8 717,480" fill="none" stroke="#f3f2e6" stroke-width="12" stroke-linecap="round" stroke-linejoin="round"/><path d="M916,627 C918.7,624.0 927.3,614.5 932,609 C936.7,603.5 938.3,597.5 944,594 C949.7,590.5 958.8,588.7 966,588 C973.2,587.3 979.8,588.2 987,590 C994.2,591.8 1001.8,595.3 1009,599 C1016.2,602.7 1022.8,606.7 1030,612 C1037.2,617.3 1044.8,625.7 1052,631 C1059.2,636.3 1066.7,641.3 1073,644 C1079.3,646.7 1085.7,647.7 1090,647 C1094.3,646.3 1097.5,641.2 1099,640" fill="none" stroke="#f3f2e6" stroke-width="12" stroke-linecap="round" stroke-linejoin="round"/><path d="M722,588 C718.3,589.0 706.0,589.5 700,594 C694.0,598.5 689.2,604.8 686,615 C682.8,625.2 681.5,642.0 681,655 C680.5,668.0 681.2,680.3 683,693 C684.8,705.7 687.5,721.2 692,731 C696.5,740.8 702.0,746.7 710,752 C718.0,757.3 729.5,760.2 740,763 C750.5,765.8 761.2,768.7 773,769 C784.8,769.3 798.3,768.2 811,765 C823.7,761.8 838.0,756.0 849,750 C860.0,744.0 868.5,736.8 877,729 C885.5,721.2 894.7,708.8 900,703 C905.3,697.2 907.5,695.5 909,694" fill="none" stroke="#f3f2e6" stroke-width="11" stroke-linecap="round" stroke-linejoin="round"/><path d="M909,694 C909.8,695.3 910.2,695.0 914,702 C917.8,709.0 925.8,724.7 932,736 C938.2,747.3 946.2,757.7 951,770 C955.8,782.3 958.5,791.7 961,810 C963.5,828.3 965.2,868.3 966,880" fill="none" stroke="#f3f2e6" stroke-width="10" stroke-linecap="round" stroke-linejoin="round"/><path d="M804,766 C804.3,778.0 805.7,817.8 806,838 C806.3,858.2 806.0,878.8 806,887" fill="none" stroke="#f3f2e6" stroke-width="8" stroke-linecap="round" stroke-linejoin="round"/><path d="M868,740 C868.7,750.0 870.7,782.5 872,800 C873.3,817.5 874.5,830.8 876,845 C877.5,859.2 880.2,878.3 881,885" fill="none" stroke="#f3f2e6" stroke-width="8" stroke-linecap="round" stroke-linejoin="round"/><path d="M806,887 C812.2,886.8 830.5,886.3 843,886 C855.5,885.7 868.0,885.8 881,885 C894.0,884.2 906.8,882.5 921,881 C935.2,879.5 951.7,877.2 966,876 C980.3,874.8 993.3,876.8 1007,874 C1020.7,871.2 1034.2,866.3 1048,859 C1061.8,851.7 1075.3,842.0 1090,830 C1104.7,818.0 1128.3,794.2 1136,787" fill="none" stroke="#f3f2e6" stroke-width="10" stroke-linecap="round" stroke-linejoin="round"/><path d="M966,876 C966.2,885.0 967.3,909.3 967,930 C966.7,950.7 965.5,982.8 964,1000 C962.5,1017.2 959.0,1027.5 958,1033" fill="none" stroke="#f3f2e6" stroke-width="8" stroke-linecap="round" stroke-linejoin="round"/><path d="M1048,859 C1048.8,871.0 1054.3,909.2 1053,931 C1051.7,952.8 1043.8,970.2 1040,990 C1036.2,1009.8 1031.7,1040.0 1030,1050" fill="none" stroke="#f3f2e6" stroke-width="8" stroke-linecap="round" stroke-linejoin="round"/><path d="M662,950 C663.7,948.5 660.7,938.5 672,941 C683.3,943.5 711.0,958.8 730,965 C749.0,971.2 774.2,972.5 786,978 C797.8,983.5 796.8,990.3 801,998 C805.2,1005.7 809.3,1019.7 811,1024" fill="none" stroke="#f3f2e6" stroke-width="11" stroke-linecap="round" stroke-linejoin="round"/><path d="M811,1024 C808.3,1029.2 801.5,1041.0 795,1055 C788.5,1069.0 775.8,1099.2 772,1108" fill="none" stroke="#f3f2e6" stroke-width="7" stroke-linecap="round" stroke-linejoin="round"/><path d="M881,885 L874,1014" fill="none" stroke="#f3f2e6" stroke-width="8" stroke-linecap="round" stroke-linejoin="round"/><path d="M860,1020 L834,1110" fill="none" stroke="#f3f2e6" stroke-width="7" stroke-linecap="round" stroke-linejoin="round"/><path d="M877,1014 L886,1110" fill="none" stroke="#f3f2e6" stroke-width="7" stroke-linecap="round" stroke-linejoin="round"/><path d="M944,1110 L956,1030" fill="none" stroke="#f3f2e6" stroke-width="6" stroke-linecap="round" stroke-linejoin="round"/><path d="M968,1030 L969,1110" fill="none" stroke="#f3f2e6" stroke-width="6" stroke-linecap="round" stroke-linejoin="round"/><path d="M1028,1110 L1036,1000" fill="none" stroke="#f3f2e6" stroke-width="6" stroke-linecap="round" stroke-linejoin="round"/><path d="M706,752 C703.8,755.0 695.8,762.0 693,770 C690.2,778.0 690.0,788.3 689,800 C688.0,811.7 688.2,823.3 687,840 C685.8,856.7 684.0,883.0 682,900 C680.0,917.0 676.2,935.0 675,942" fill="none" stroke="#f3f2e6" stroke-width="6" stroke-linecap="round" stroke-linejoin="round"/><path d="M1099,640 C1099.7,648.2 1101.2,673.7 1103,689 C1104.8,704.3 1107.0,717.7 1110,732 C1113.0,746.3 1116.7,765.8 1121,775 C1125.3,784.2 1133.5,785.0 1136,787" fill="none" stroke="#f3f2e6" stroke-width="9" stroke-linecap="round" stroke-linejoin="round"/><path d="M908,624 C905.7,624.5 901.5,624.7 894,627 C886.5,629.3 874.5,635.5 863,638 C851.5,640.5 837.8,642.8 825,642 C812.2,641.2 797.7,637.8 786,633 C774.3,628.2 764.2,620.7 755,613 C745.8,605.3 737.0,596.7 731,587 C725.0,577.3 721.5,567.0 719,555 C716.5,543.0 716.3,527.5 716,515 C715.7,502.5 716.8,485.8 717,480" fill="none" stroke="#1c1c18" stroke-width="2.9" stroke-linecap="round" stroke-linejoin="round"/><path d="M916,627 C918.7,624.0 927.3,614.5 932,609 C936.7,603.5 938.3,597.5 944,594 C949.7,590.5 958.8,588.7 966,588 C973.2,587.3 979.8,588.2 987,590 C994.2,591.8 1001.8,595.3 1009,599 C1016.2,602.7 1022.8,606.7 1030,612 C1037.2,617.3 1044.8,625.7 1052,631 C1059.2,636.3 1066.7,641.3 1073,644 C1079.3,646.7 1085.7,647.7 1090,647 C1094.3,646.3 1097.5,641.2 1099,640" fill="none" stroke="#1c1c18" stroke-width="2.9" stroke-linecap="round" stroke-linejoin="round"/><path d="M722,588 C718.3,589.0 706.0,589.5 700,594 C694.0,598.5 689.2,604.8 686,615 C682.8,625.2 681.5,642.0 681,655 C680.5,668.0 681.2,680.3 683,693 C684.8,705.7 687.5,721.2 692,731 C696.5,740.8 702.0,746.7 710,752 C718.0,757.3 729.5,760.2 740,763 C750.5,765.8 761.2,768.7 773,769 C784.8,769.3 798.3,768.2 811,765 C823.7,761.8 838.0,756.0 849,750 C860.0,744.0 868.5,736.8 877,729 C885.5,721.2 894.7,708.8 900,703 C905.3,697.2 907.5,695.5 909,694" fill="none" stroke="#1c1c18" stroke-width="2.6" stroke-linecap="round" stroke-linejoin="round"/><path d="M909,694 C909.8,695.3 910.2,695.0 914,702 C917.8,709.0 925.8,724.7 932,736 C938.2,747.3 946.2,757.7 951,770 C955.8,782.3 958.5,791.7 961,810 C963.5,828.3 965.2,868.3 966,880" fill="none" stroke="#1c1c18" stroke-width="2.4" stroke-linecap="round" stroke-linejoin="round"/><path d="M804,766 C804.3,778.0 805.7,817.8 806,838 C806.3,858.2 806.0,878.8 806,887" fill="none" stroke="#1c1c18" stroke-width="2.2" stroke-linecap="round" stroke-linejoin="round"/><path d="M868,740 C868.7,750.0 870.7,782.5 872,800 C873.3,817.5 874.5,830.8 876,845 C877.5,859.2 880.2,878.3 881,885" fill="none" stroke="#1c1c18" stroke-width="2.2" stroke-linecap="round" stroke-linejoin="round"/><path d="M806,887 C812.2,886.8 830.5,886.3 843,886 C855.5,885.7 868.0,885.8 881,885 C894.0,884.2 906.8,882.5 921,881 C935.2,879.5 951.7,877.2 966,876 C980.3,874.8 993.3,876.8 1007,874 C1020.7,871.2 1034.2,866.3 1048,859 C1061.8,851.7 1075.3,842.0 1090,830 C1104.7,818.0 1128.3,794.2 1136,787" fill="none" stroke="#1c1c18" stroke-width="2.4" stroke-linecap="round" stroke-linejoin="round"/><path d="M966,876 C966.2,885.0 967.3,909.3 967,930 C966.7,950.7 965.5,982.8 964,1000 C962.5,1017.2 959.0,1027.5 958,1033" fill="none" stroke="#1c1c18" stroke-width="2.2" stroke-linecap="round" stroke-linejoin="round"/><path d="M1048,859 C1048.8,871.0 1054.3,909.2 1053,931 C1051.7,952.8 1043.8,970.2 1040,990 C1036.2,1009.8 1031.7,1040.0 1030,1050" fill="none" stroke="#1c1c18" stroke-width="2.2" stroke-linecap="round" stroke-linejoin="round"/><path d="M662,950 C663.7,948.5 660.7,938.5 672,941 C683.3,943.5 711.0,958.8 730,965 C749.0,971.2 774.2,972.5 786,978 C797.8,983.5 796.8,990.3 801,998 C805.2,1005.7 809.3,1019.7 811,1024" fill="none" stroke="#1c1c18" stroke-width="2.6" stroke-linecap="round" stroke-linejoin="round"/><path d="M811,1024 C808.3,1029.2 801.5,1041.0 795,1055 C788.5,1069.0 775.8,1099.2 772,1108" fill="none" stroke="#1c1c18" stroke-width="2.2" stroke-linecap="round" stroke-linejoin="round"/><path d="M881,885 L874,1014" fill="none" stroke="#1c1c18" stroke-width="2.2" stroke-linecap="round" stroke-linejoin="round"/><path d="M860,1020 L834,1110" fill="none" stroke="#1c1c18" stroke-width="2.2" stroke-linecap="round" stroke-linejoin="round"/><path d="M877,1014 L886,1110" fill="none" stroke="#1c1c18" stroke-width="2.2" stroke-linecap="round" stroke-linejoin="round"/><path d="M944,1110 L956,1030" fill="none" stroke="#1c1c18" stroke-width="2.2" stroke-linecap="round" stroke-linejoin="round"/><path d="M968,1030 L969,1110" fill="none" stroke="#1c1c18" stroke-width="2.2" stroke-linecap="round" stroke-linejoin="round"/><path d="M1028,1110 L1036,1000" fill="none" stroke="#1c1c18" stroke-width="2.2" stroke-linecap="round" stroke-linejoin="round"/><path d="M706,752 C703.8,755.0 695.8,762.0 693,770 C690.2,778.0 690.0,788.3 689,800 C688.0,811.7 688.2,823.3 687,840 C685.8,856.7 684.0,883.0 682,900 C680.0,917.0 676.2,935.0 675,942" fill="none" stroke="#1c1c18" stroke-width="2.2" stroke-linecap="round" stroke-linejoin="round"/><path d="M1099,640 C1099.7,648.2 1101.2,673.7 1103,689 C1104.8,704.3 1107.0,717.7 1110,732 C1113.0,746.3 1116.7,765.8 1121,775 C1125.3,784.2 1133.5,785.0 1136,787" fill="none" stroke="#1c1c18" stroke-width="2.2" stroke-linecap="round" stroke-linejoin="round"/><path d="M681,600 C680.8,610.0 679.7,640.8 680,660 C680.3,679.2 682.0,697.3 683,715 C684.0,732.7 685.0,748.8 686,766 C687.0,783.2 688.5,804.5 689,818 C689.5,831.5 690.5,833.3 689,847 C687.5,860.7 684.3,882.3 680,900 C675.7,917.7 668.3,935.2 663,953 C657.7,970.8 652.3,989.2 648,1007 C643.7,1024.8 639.5,1043.5 637,1060 C634.5,1076.5 633.7,1098.3 633,1106" fill="none" stroke="#f0efdc" stroke-width="4.5"/><path d="M1150,800 C1152.0,811.7 1162.3,845.8 1162,870 C1161.7,894.2 1154.3,922.5 1148,945 C1141.7,967.5 1130.2,986.7 1124,1005 C1117.8,1023.3 1114.2,1037.5 1111,1055 C1107.8,1072.5 1106.0,1100.8 1105,1110" fill="none" stroke="#f0efdc" stroke-width="4"/><path d="M622,170 C631.2,166.5 660.0,155.7 677,149 C694.0,142.3 711.0,131.5 724,130 C737.0,128.5 741.3,138.8 755,140 C768.7,141.2 788.8,139.3 806,137 C823.2,134.7 840.0,129.2 858,126 C876.0,122.8 904.7,119.3 914,118" fill="none" stroke="#efeed8" stroke-width="2.4"/><path d="M972,188 C975.8,187.7 988.3,186.2 995,186 C1001.7,185.8 1006.2,187.5 1012,187 C1017.8,186.5 1023.0,183.5 1030,183 C1037.0,182.5 1047.3,184.7 1054,184 C1060.7,183.3 1063.7,180.2 1070,179 C1076.3,177.8 1085.3,178.2 1092,177 C1098.7,175.8 1107.0,172.8 1110,172" fill="none" stroke="#efeed8" stroke-width="2.4"/><path d="M1119,209 C1120.7,205.8 1125.5,201.8 1128,209 C1130.5,216.2 1133.5,238.8 1134,252 C1134.5,265.2 1134.0,277.5 1131,288 C1128.0,298.5 1122.5,307.7 1116,315 C1109.5,322.3 1100.0,326.2 1092,332 C1084.0,337.8 1075.0,349.0 1068,350 C1061.0,351.0 1056.3,343.0 1050,338 C1043.7,333.0 1029.0,322.8 1030,320 C1031.0,317.2 1046.3,321.8 1056,321 C1065.7,320.2 1079.2,318.5 1088,315 C1096.8,311.5 1103.5,305.7 1109,300 C1114.5,294.3 1118.2,287.7 1121,281 C1123.8,274.3 1126.3,264.8 1126,260 C1125.7,255.2 1120.3,257.3 1119,252 C1117.7,246.7 1118.0,235.2 1118,228 C1118.0,220.8 1117.3,212.2 1119,209Z" fill="#bfe5c3" fill-opacity="0.9"/><path d="M727.5,368 C724.3,364.8 716.8,351.5 714,343 C711.2,334.5 711.2,325.5 711,317 C710.8,308.5 711.7,300.5 713,292 C714.3,283.5 716.3,273.2 719,266 C721.7,258.8 724.5,254.2 729,249 C733.5,243.8 739.3,239.2 746,235 C752.7,230.8 760.7,227.5 769,224 C777.3,220.5 787.5,216.5 796,214 C804.5,211.5 810.2,211.3 820,209 C829.8,206.7 843.5,203.2 855,200 C866.5,196.8 879.2,193.0 889,190 C898.8,187.0 907.0,185.2 914,182 C921.0,178.8 927.3,176.2 931,171 C934.7,165.8 936.3,159.5 936,151 C935.7,142.5 930.8,130.5 929,120 C927.2,109.5 924.7,94.5 925,88 C925.3,81.5 929.0,81.7 931,81 C933.0,80.3 935.3,79.5 937,84 C938.7,88.5 939.3,98.8 941,108 C942.7,117.2 945.7,129.0 947,139 C948.3,149.0 946.8,160.7 949,168 C951.2,175.3 955.3,178.2 960,183 C964.7,187.8 972.5,191.8 977,197 C981.5,202.2 983.8,207.2 987,214 C990.2,220.8 992.0,229.7 996,238 C1000.0,246.3 1005.7,255.2 1011,264 C1016.3,272.8 1022.5,283.8 1028,291 C1033.5,298.2 1037.3,304.3 1044,307 C1050.7,309.7 1060.0,308.5 1068,307 C1076.0,305.5 1084.7,302.3 1092,298 C1099.3,293.7 1107.5,286.7 1112,281 C1116.5,275.3 1117.5,268.3 1119,264 C1120.5,259.7 1120.2,257.0 1121,255 C1121.8,253.0 1123.2,251.2 1124,252 C1124.8,252.8 1126.5,255.2 1126,260 C1125.5,264.8 1123.8,274.3 1121,281 C1118.2,287.7 1114.5,294.3 1109,300 C1103.5,305.7 1096.8,311.5 1088,315 C1079.2,318.5 1065.7,320.2 1056,321 C1046.3,321.8 1036.8,322.2 1030,320 C1023.2,317.8 1019.8,314.0 1015,308 C1010.2,302.0 1006.2,293.3 1001,284 C995.8,274.7 989.2,262.0 984,252 C978.8,242.0 975.2,231.5 970,224 C964.8,216.5 959.5,210.3 953,207 C946.5,203.7 939.8,202.8 931,204 C922.2,205.2 907.0,211.2 900,214 C893.0,216.8 896.5,217.5 889,221 C881.5,224.5 866.5,231.2 855,235 C843.5,238.8 831.0,241.7 820,244 C809.0,246.3 798.2,247.0 789,249 C779.8,251.0 771.5,253.2 765,256 C758.5,258.8 754.0,262.0 750,266 C746.0,270.0 743.2,274.3 741,280 C738.8,285.7 738.2,290.8 737,300 C735.8,309.2 734.7,324.7 734,335 C733.3,345.3 734.1,356.5 733,362 C731.9,367.5 730.7,371.2 727.5,368Z" fill="#f2846f" stroke="#e35540" stroke-width="2.2"/><clipPath id="rc"><path d="M727.5,368 C724.3,364.8 716.8,351.5 714,343 C711.2,334.5 711.2,325.5 711,317 C710.8,308.5 711.7,300.5 713,292 C714.3,283.5 716.3,273.2 719,266 C721.7,258.8 724.5,254.2 729,249 C733.5,243.8 739.3,239.2 746,235 C752.7,230.8 760.7,227.5 769,224 C777.3,220.5 787.5,216.5 796,214 C804.5,211.5 810.2,211.3 820,209 C829.8,206.7 843.5,203.2 855,200 C866.5,196.8 879.2,193.0 889,190 C898.8,187.0 907.0,185.2 914,182 C921.0,178.8 927.3,176.2 931,171 C934.7,165.8 936.3,159.5 936,151 C935.7,142.5 930.8,130.5 929,120 C927.2,109.5 924.7,94.5 925,88 C925.3,81.5 929.0,81.7 931,81 C933.0,80.3 935.3,79.5 937,84 C938.7,88.5 939.3,98.8 941,108 C942.7,117.2 945.7,129.0 947,139 C948.3,149.0 946.8,160.7 949,168 C951.2,175.3 955.3,178.2 960,183 C964.7,187.8 972.5,191.8 977,197 C981.5,202.2 983.8,207.2 987,214 C990.2,220.8 992.0,229.7 996,238 C1000.0,246.3 1005.7,255.2 1011,264 C1016.3,272.8 1022.5,283.8 1028,291 C1033.5,298.2 1037.3,304.3 1044,307 C1050.7,309.7 1060.0,308.5 1068,307 C1076.0,305.5 1084.7,302.3 1092,298 C1099.3,293.7 1107.5,286.7 1112,281 C1116.5,275.3 1117.5,268.3 1119,264 C1120.5,259.7 1120.2,257.0 1121,255 C1121.8,253.0 1123.2,251.2 1124,252 C1124.8,252.8 1126.5,255.2 1126,260 C1125.5,264.8 1123.8,274.3 1121,281 C1118.2,287.7 1114.5,294.3 1109,300 C1103.5,305.7 1096.8,311.5 1088,315 C1079.2,318.5 1065.7,320.2 1056,321 C1046.3,321.8 1036.8,322.2 1030,320 C1023.2,317.8 1019.8,314.0 1015,308 C1010.2,302.0 1006.2,293.3 1001,284 C995.8,274.7 989.2,262.0 984,252 C978.8,242.0 975.2,231.5 970,224 C964.8,216.5 959.5,210.3 953,207 C946.5,203.7 939.8,202.8 931,204 C922.2,205.2 907.0,211.2 900,214 C893.0,216.8 896.5,217.5 889,221 C881.5,224.5 866.5,231.2 855,235 C843.5,238.8 831.0,241.7 820,244 C809.0,246.3 798.2,247.0 789,249 C779.8,251.0 771.5,253.2 765,256 C758.5,258.8 754.0,262.0 750,266 C746.0,270.0 743.2,274.3 741,280 C738.8,285.7 738.2,290.8 737,300 C735.8,309.2 734.7,324.7 734,335 C733.3,345.3 734.1,356.5 733,362 C731.9,367.5 730.7,371.2 727.5,368Z"/></clipPath><path clip-path="url(#rc)" d="M728,362 C727.2,355.0 723.3,333.7 723,320 C722.7,306.3 722.3,291.7 726,280 C729.7,268.3 736.0,257.8 745,250 C754.0,242.2 765.8,237.7 780,233 C794.2,228.3 811.7,226.7 830,222 C848.3,217.3 873.3,210.0 890,205 C906.7,200.0 918.3,193.5 930,192 C941.7,190.5 950.8,192.2 960,196 C969.2,199.8 978.3,206.0 985,215 C991.7,224.0 993.8,237.5 1000,250 C1006.2,262.5 1013.7,280.0 1022,290 C1030.3,300.0 1040.3,306.5 1050,310 C1059.7,313.5 1070.3,313.8 1080,311 C1089.7,308.2 1101.0,301.8 1108,293 C1115.0,284.2 1119.7,263.8 1122,258" fill="none" stroke="#dc6450" stroke-width="6" stroke-opacity="0.7" stroke-linecap="round"/><path clip-path="url(#rc)" d="M945,190 C944.2,181.7 941.8,157.3 940,140 C938.2,122.7 935.0,95.0 934,86" fill="none" stroke="#dc6450" stroke-width="4" stroke-opacity="0.65"/><path clip-path="url(#rc)" d="M720,340 C719.7,332.5 716.7,308.0 718,295 C719.3,282.0 722.3,271.2 728,262 C733.7,252.8 741.7,246.3 752,240 C762.3,233.7 773.7,229.2 790,224 C806.3,218.8 831.7,213.8 850,209 C868.3,204.2 887.5,199.8 900,195 C912.5,190.2 920.8,182.5 925,180" fill="none" stroke="#f8b4a4" stroke-width="2.5" stroke-opacity="0.8"/><path d="M1063,352 C1065.0,349.7 1068.3,349.7 1070,352 C1071.7,354.3 1072.5,359.0 1073,366 C1073.5,373.0 1074.5,385.8 1073,394 C1071.5,402.2 1068.2,409.8 1064,415 C1059.8,420.2 1055.8,422.3 1048,425 C1040.2,427.7 1023.7,430.3 1017,431 C1010.3,431.7 1003.7,431.8 1008,429 C1012.3,426.2 1035.0,419.3 1043,414 C1051.0,408.7 1053.5,405.0 1056,397 C1058.5,389.0 1056.8,373.5 1058,366 C1059.2,358.5 1061.0,354.3 1063,352Z" fill="#45cccc" stroke="#7fe0e0" stroke-width="1.5"/><path d="M1011,427 C1025.8,425.7 1042.7,426.5 1050,429 C1057.3,431.5 1057.3,437.0 1055,442 C1052.7,447.0 1046.0,452.7 1036,459 C1026.0,465.3 1008.2,472.5 995,480 C981.8,487.5 967.8,496.7 957,504 C946.2,511.3 938.0,518.8 930,524 C922.0,529.2 914.2,534.3 909,535 C903.8,535.7 902.3,532.7 899,528 C895.7,523.3 890.7,514.5 889,507 C887.3,499.5 886.8,489.8 889,483 C891.2,476.2 895.2,471.7 902,466 C908.8,460.3 920.2,453.8 930,449 C939.8,444.2 947.5,440.7 961,437 C974.5,433.3 996.2,428.3 1011,427Z" fill="url(#pstri)"/><path d="M906,541 C910.7,534.2 928.2,527.5 930,531 C931.8,534.5 919.5,547.0 917,562 C914.5,577.0 916.5,610.0 915,621 C913.5,632.0 910.2,631.5 908,628 C905.8,624.5 903.0,609.3 902,600 C901.0,590.7 901.3,581.8 902,572 C902.7,562.2 901.3,547.8 906,541Z" fill="#d9d28e"/><rect x="683" y="60" width="166" height="53" rx="26" fill="#f5f5f5" fill-opacity="0.95"/><text x="766" y="97" font-size="31" fill="#7a7a7a" stroke="#f5f5f5" stroke-width="0.56" text-anchor="middle" textLength="70" lengthAdjust="spacingAndGlyphs">Tibia</text><rect x="959" y="78" width="104.5" height="58" rx="26" fill="#f5f5f5" fill-opacity="0.95"/><text x="1010.5" y="115" font-size="27" fill="#7a7a7a" stroke="#f5f5f5" stroke-width="0.49" text-anchor="middle" textLength="77" lengthAdjust="spacingAndGlyphs">Fibula</text><rect x="757" y="328" width="166" height="55" rx="27" fill="#f5f5f5" fill-opacity="0.95"/><text x="840" y="366.5" font-size="31" fill="#7a7a7a" stroke="#f5f5f5" stroke-width="0.56" text-anchor="middle" textLength="79" lengthAdjust="spacingAndGlyphs">Talus</text><rect x="967" y="499" width="140" height="45" rx="22" fill="#f5f5f5" fill-opacity="0.95"/><text x="1037" y="531" font-size="27" fill="#7a7a7a" stroke="#f5f5f5" stroke-width="0.49" text-anchor="middle" textLength="130" lengthAdjust="spacingAndGlyphs">Calcaneus</text><rect x="689" y="668" width="177" height="48" rx="24" fill="#f5f5f5" fill-opacity="0.95"/><text x="778" y="700.5" font-size="27" fill="#7a7a7a" stroke="#f5f5f5" stroke-width="0.49" text-anchor="middle" textLength="170" lengthAdjust="spacingAndGlyphs">Os naviculare</text><rect x="933" y="694" width="169" height="47.5" rx="23" fill="#f5f5f5" fill-opacity="0.95"/><text x="1018" y="725.4" font-size="22" fill="#7a7a7a" stroke="#f5f5f5" stroke-width="0.40" text-anchor="middle" textLength="154" lengthAdjust="spacingAndGlyphs">Os cuboideum</text><rect x="814" y="805" width="65" height="48" rx="10" fill="#f5f5f5" fill-opacity="0.95"/><text x="846.5" y="825" font-size="13.5" fill="#7a7a7a" stroke="#f5f5f5" stroke-width="0.24" text-anchor="middle" textLength="44" lengthAdjust="spacingAndGlyphs">Os cun.</text><text x="846.5" y="842.4" font-size="13.5" fill="#7a7a7a" stroke="#f5f5f5" stroke-width="0.24" text-anchor="middle" textLength="58" lengthAdjust="spacingAndGlyphs">intermed.</text><rect x="890" y="796" width="66" height="48.5" rx="10" fill="#f5f5f5" fill-opacity="0.95"/><text x="923" y="816.3" font-size="13.5" fill="#7a7a7a" stroke="#f5f5f5" stroke-width="0.24" text-anchor="middle" textLength="44" lengthAdjust="spacingAndGlyphs">Os cun.</text><text x="923" y="833.5" font-size="13.5" fill="#7a7a7a" stroke="#f5f5f5" stroke-width="0.24" text-anchor="middle" textLength="46" lengthAdjust="spacingAndGlyphs">laterale</text><rect x="676" y="847" width="126.5" height="48" rx="12" fill="#f5f5f5" fill-opacity="0.95"/><text x="739" y="868" font-size="17" fill="#7a7a7a" stroke="#f5f5f5" stroke-width="0.31" text-anchor="middle" textLength="121" lengthAdjust="spacingAndGlyphs">Os cuneiforme</text><text x="739" y="889.8" font-size="17" fill="#7a7a7a" stroke="#f5f5f5" stroke-width="0.31" text-anchor="middle" textLength="66" lengthAdjust="spacingAndGlyphs">mediale</text><g stroke="#0f2a5f" stroke-width="3.6" fill="none" stroke-linecap="round"><line x1="491" y1="172" x2="799" y2="213"/><line x1="596" y1="548" x2="899" y2="567"/><line x1="1072" y1="387" x2="1363" y2="286"/><line x1="971" y1="467" x2="1283" y2="467"/></g><g fill="#0f2a5f"><circle cx="799" cy="213" r="8.5"/><circle cx="899" cy="567" r="8.5"/><circle cx="1072" cy="387" r="8.5"/><circle cx="971" cy="467" r="8.5"/></g><rect x="33.5" y="106" width="450.5" height="150" rx="38" fill="#fbb9ad" stroke="#0f2a5f" stroke-width="4.5"/><text x="258" y="173" font-size="40" font-weight="bold" fill="#0b0b0b" text-anchor="middle" textLength="302" lengthAdjust="spacingAndGlyphs">Art. talocruralis</text><text x="258" y="220" font-size="40" font-weight="normal" fill="#0b0b0b" stroke="#fbb9ad" stroke-width="0.45" text-anchor="middle" textLength="439" lengthAdjust="spacingAndGlyphs">(Oberes Sprunggelenk)</text><rect x="11" y="467" width="583" height="161" rx="38" fill="#ede2a5" stroke="#0f2a5f" stroke-width="4.5"/><text x="302" y="513" font-size="40" font-weight="bold" fill="#0b0b0b" text-anchor="middle" textLength="549" lengthAdjust="spacingAndGlyphs">Art. talocalcaneonavicularis</text><text x="302" y="562" font-size="40" font-weight="normal" fill="#0b0b0b" stroke="#ede2a5" stroke-width="0.45" text-anchor="middle" textLength="339" lengthAdjust="spacingAndGlyphs">(Vordere Kammer</text><text x="302" y="610" font-size="40" font-weight="normal" fill="#0b0b0b" stroke="#ede2a5" stroke-width="0.45" text-anchor="middle" textLength="537" lengthAdjust="spacingAndGlyphs">des unteren Sprunggelenks)</text><rect x="1365" y="213" width="590" height="148" rx="38" fill="#a6e3dd" stroke="#0f2a5f" stroke-width="4.5"/><text x="1658" y="252" font-size="40" font-weight="bold" fill="#0b0b0b" text-anchor="middle" textLength="272" lengthAdjust="spacingAndGlyphs">Art. subtalaris</text><text x="1658" y="301" font-size="40" font-weight="normal" fill="#0b0b0b" stroke="#a6e3dd" stroke-width="0.45" text-anchor="middle" textLength="561" lengthAdjust="spacingAndGlyphs">(Hintere Kammer des unteren</text><text x="1663" y="350" font-size="40" font-weight="normal" fill="#0b0b0b" stroke="#a6e3dd" stroke-width="0.45" text-anchor="middle" textLength="299" lengthAdjust="spacingAndGlyphs">Sprunggelenks)</text><text x="1300" y="480" font-size="40" fill="#0b0b0b" stroke="#ffffff" stroke-width="0.45" textLength="605" lengthAdjust="spacingAndGlyphs">Lig. talocalcaneum interosseum</text></svg>
</body></html>
